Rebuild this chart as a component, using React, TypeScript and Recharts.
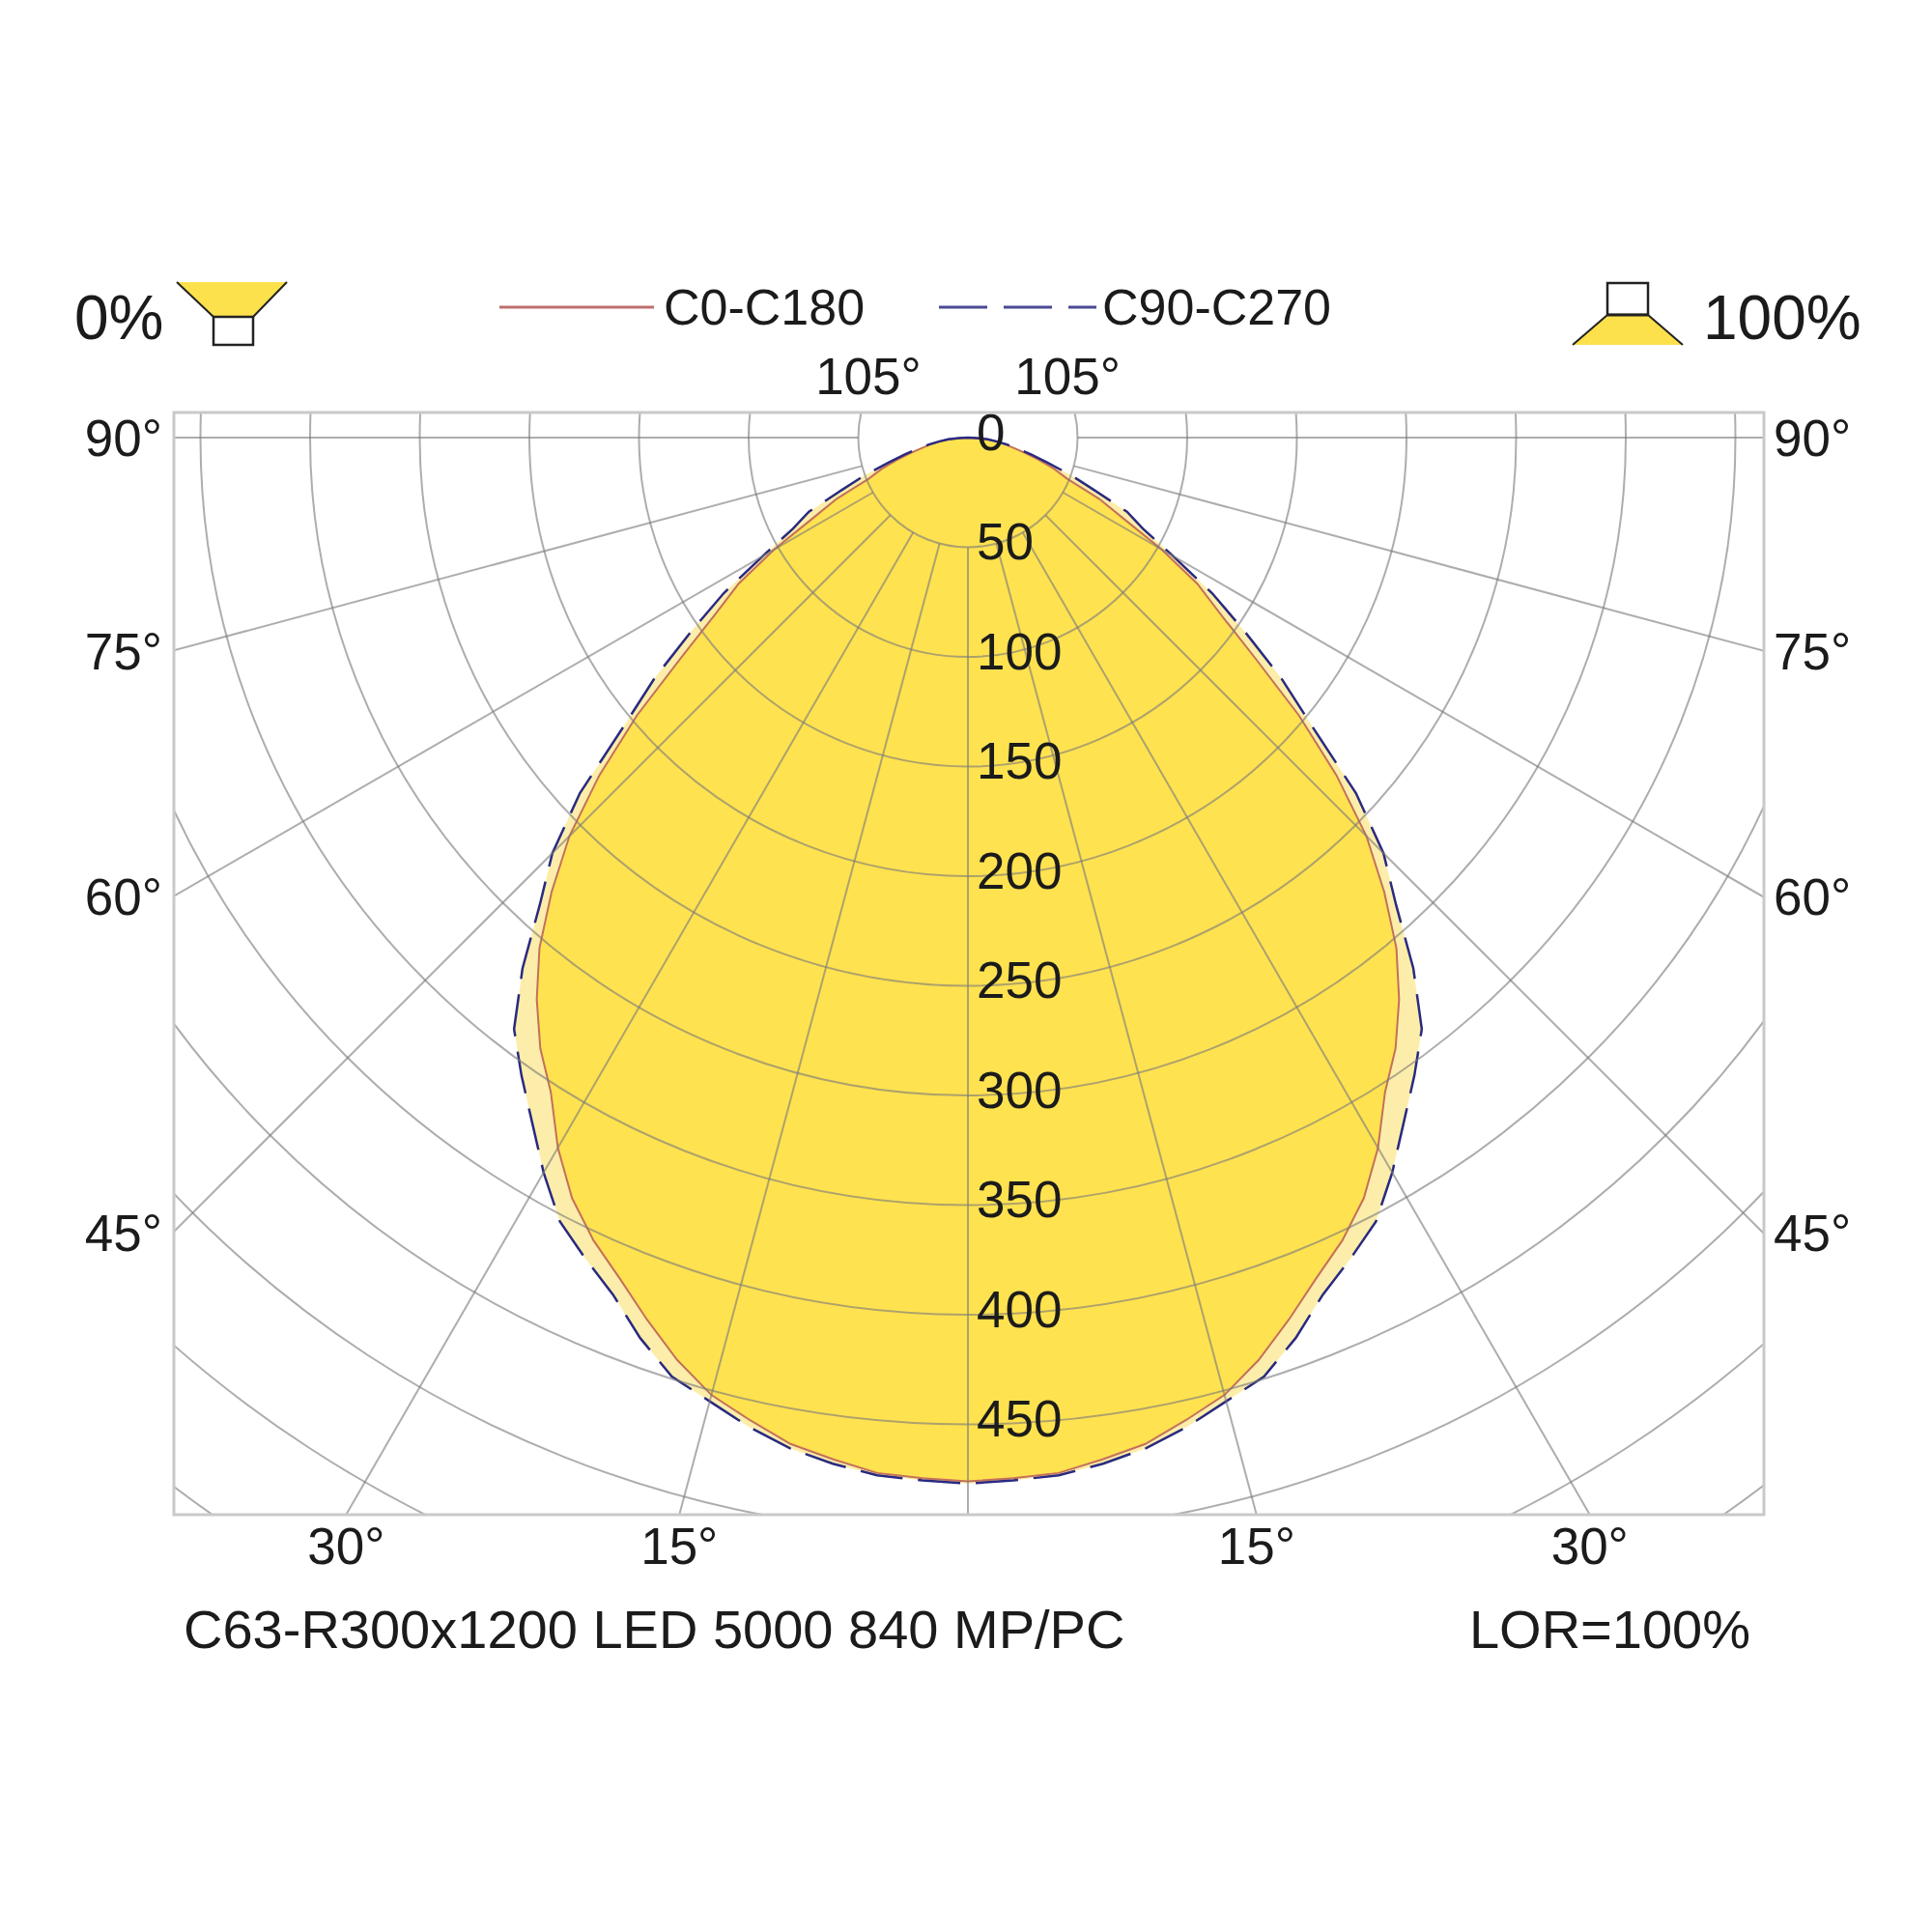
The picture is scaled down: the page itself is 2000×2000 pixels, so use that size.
import { RadarChart, Radar, PolarGrid, PolarAngleAxis, PolarRadiusAxis } from "recharts";

// gamma angle from nadir (deg) and luminous intensity (cd/klm)
const gammaAngles = [
  0, 2.5, 5, 7.5, 10, 12.5, 15, 17.5, 20, 22.5, 25, 27.5, 30, 32.5, 35, 37.5, 40, 42.5, 45,
  47.5, 50, 52.5, 55, 57.5, 60, 62.5, 65, 67.5, 70, 72.5, 75, 77.5, 80, 82.5, 85, 87.5, 90,
];
const c0C180 = [
  476, 475, 474, 470, 466, 459, 452, 441, 428, 415, 404, 391, 374, 354, 340, 323, 304, 281, 257,
  228, 197, 165, 141, 124, 102, 80, 66, 49, 42, 34, 27, 21, 17, 13, 9, 4, 0,
];
const c90C270 = [
  477, 476, 475, 472, 468, 462, 455, 449, 437, 423, 413, 403, 387, 370, 355, 340, 316, 289, 268,
  240, 205, 180, 154, 132, 108, 90, 80, 62, 50, 38, 30, 23, 18, 13, 9, 4, 0,
];

const ringMax = 600;
const ringStep = 50;
const ringLabelMax = 450;
const spokeAngles = [-180, -165, -150, -135, -120, -105, -90, -75, -60, -45, -30, -15, 0, 15, 30, 45, 60, 75, 90, 105, 120, 135, 150, 165, 180];
const sideLabels = [90, 75, 60, 45];
const bottomLabels = [30, 15];
const topLabels = [105];

// both halves of each plane are the same curve
const data = [
  ...gammaAngles.slice(1).reverse().map((g) => {
    const i = gammaAngles.indexOf(g);
    return { angle: -g, c0: c0C180[i], c90: c90C270[i] };
  }),
  ...gammaAngles.map((g, i) => ({ angle: g, c0: c0C180[i], c90: c90C270[i] })),
];

const FONT = "'Liberation Sans', Arial, sans-serif";
const INK = "#1b1b1b";
const GRID = { stroke: "#7a7a7a", strokeOpacity: 0.62, strokeWidth: 2 };

// plot frame and pole, in page pixels
const FRAME = { left: 180, top: 427, width: 1646, height: 1141 };
const CX = 822;
const CY = 26;
const PX_PER_CD = 2.27;
const LABEL_PAD = 60; // room above the frame so the "0" label is not clipped

const polarProps = {
  width: FRAME.width,
  height: FRAME.height,
  cx: CX,
  cy: CY,
  startAngle: -270,
  endAngle: 90,
  margin: { top: 0, right: 0, bottom: 0, left: 0 },
  data,
};

const toChartAngle = (g: number) => g - 90;

const layer: React.CSSProperties = {
  position: "absolute",
  left: FRAME.left,
  top: FRAME.top,
  width: FRAME.width,
  height: FRAME.height,
  pointerEvents: "none",
};

function AngleAxis() {
  return (
    <PolarAngleAxis
      dataKey="angle"
      type="number"
      domain={[-180, 180]}
      axisLine={false}
      tickLine={false}
      tick={false}
    />
  );
}

function RingLabel(props: any) {
  const { x, y, payload } = props;
  if (payload.value > ringLabelMax) return <g />;
  return (
    <text
      x={x + 9}
      y={y - 6}
      dominantBaseline="central"
      fontSize={53}
      fontFamily={FONT}
      fill={INK}
    >
      {payload.value}
    </text>
  );
}

export default function App() {
  const pole = { x: FRAME.left + CX, y: FRAME.top + CY };
  const halfW = FRAME.width / 2;
  const below = FRAME.top + FRAME.height - pole.y;
  const above = pole.y - FRAME.top;
  const rad = (d: number) => (d * Math.PI) / 180;

  return (
    <div style={{ position: "absolute", left: 0, top: 0, width: 2000, height: 2000, background: "#fff" }}>
      {/* intensity curves */}
      <div style={layer}>
        <RadarChart {...polarProps} outerRadius={ringMax * PX_PER_CD}>
          <AngleAxis />
          <PolarRadiusAxis domain={[0, ringMax]} tickCount={ringMax / ringStep + 1} axisLine={false} tick={false} />
          <Radar dataKey="c90" fill="#FCEEAA" fillOpacity={1} stroke="none" isAnimationActive={false} />
          <Radar dataKey="c0" fill="#FFE250" fillOpacity={1} stroke="none" isAnimationActive={false} />
          <Radar dataKey="c0" fill="none" stroke="#C4705A" strokeWidth={2} isAnimationActive={false} />
          <Radar
            dataKey="c90"
            fill="none"
            stroke="#2A2A80"
            strokeWidth={2.5}
            strokeDasharray="44 16"
            isAnimationActive={false}
          />
        </RadarChart>
      </div>

      {/* spokes, starting at the 50 ring */}
      <div style={layer}>
        <RadarChart {...polarProps} innerRadius={ringStep * PX_PER_CD} outerRadius={1500}>
          <AngleAxis />
          <PolarGrid gridType="circle" polarRadius={[]} polarAngles={spokeAngles.map(toChartAngle)} {...GRID} />
        </RadarChart>
      </div>

      {/* rings */}
      <div style={layer}>
        <RadarChart {...polarProps} outerRadius={ringMax * PX_PER_CD}>
          <AngleAxis />
          <PolarRadiusAxis domain={[0, ringMax]} tickCount={ringMax / ringStep + 1} axisLine={false} tick={false} />
          <Radar dataKey="c0" fill="none" stroke="none" isAnimationActive={false} />
          <PolarGrid gridType="circle" radialLines={false} {...GRID} />
        </RadarChart>
      </div>

      {/* ring labels, on a taller layer so nothing is cut at the frame top */}
      <div style={{ ...layer, top: FRAME.top - LABEL_PAD, height: FRAME.height + LABEL_PAD }}>
        <RadarChart
          {...polarProps}
          height={FRAME.height + LABEL_PAD}
          cy={CY + LABEL_PAD}
          outerRadius={ringMax * PX_PER_CD}
        >
          <AngleAxis />
          <PolarRadiusAxis
            angle={-90}
            domain={[0, ringMax]}
            tickCount={ringMax / ringStep + 1}
            axisLine={false}
            tick={RingLabel}
          />
          <Radar dataKey="c0" fill="none" stroke="none" isAnimationActive={false} />
        </RadarChart>
      </div>

      <svg
        width={2000}
        height={2000}
        style={{ position: "absolute", left: 0, top: 0, pointerEvents: "none" }}
        fontFamily={FONT}
        fill={INK}
      >
        <rect
          x={FRAME.left}
          y={FRAME.top}
          width={FRAME.width}
          height={FRAME.height}
          fill="none"
          stroke="#C9C9C9"
          strokeWidth={3}
        />

        {/* header */}
        <text x={77} y={351} fontSize={64}>0%</text>
        <polygon points="183,292 297,292 262,328 221,328" fill="#FDE14C" stroke="none" />
        <line x1={183} y1={292} x2={221} y2={328} stroke="#222" strokeWidth={2} />
        <line x1={297} y1={292} x2={262} y2={328} stroke="#222" strokeWidth={2} />
        <rect x={221} y={328} width={41} height={29} fill="#fff" stroke="#222" strokeWidth={2.5} />

        <line x1={517} y1={318} x2={677} y2={318} stroke="#BE6E6E" strokeWidth={3} />
        <text x={687} y={336} fontSize={52}>C0-C180</text>
        <line x1={972} y1={318} x2={1135} y2={318} stroke="#4A4A92" strokeWidth={3} strokeDasharray="50 17" />
        <text x={1141} y={336} fontSize={52}>C90-C270</text>

        <rect x={1664} y={293} width={42} height={33} fill="#fff" stroke="#222" strokeWidth={2.5} />
        <polygon points="1664,326 1706,326 1742,357 1628,357" fill="#FDE14C" stroke="none" />
        <line x1={1664} y1={326} x2={1628} y2={357} stroke="#222" strokeWidth={2} />
        <line x1={1706} y1={326} x2={1742} y2={357} stroke="#222" strokeWidth={2} />
        <line x1={1664} y1={326} x2={1706} y2={326} stroke="#222" strokeWidth={3} />
        <text x={1763} y={351} fontSize={64}>100%</text>

        {/* angle labels where the spokes leave the frame */}
        {sideLabels.map((g) => {
          const y = pole.y + halfW / Math.tan(rad(g)) + 19;
          return (
            <g key={`s${g}`}>
              <text x={FRAME.left - 12} y={y} fontSize={53} textAnchor="end">{g}°</text>
              <text x={FRAME.left + FRAME.width + 10} y={y} fontSize={53}>{g}°</text>
            </g>
          );
        })}
        {bottomLabels.map((g) => {
          const dx = below * Math.tan(rad(g));
          return (
            <g key={`b${g}`}>
              <text x={pole.x - dx} y={1619} fontSize={53} textAnchor="middle">{g}°</text>
              <text x={pole.x + dx} y={1619} fontSize={53} textAnchor="middle">{g}°</text>
            </g>
          );
        })}
        {topLabels.map((g) => {
          const dx = above / Math.tan(rad(g - 90)) + 6;
          return (
            <g key={`t${g}`}>
              <text x={pole.x - dx} y={408} fontSize={53} textAnchor="middle">{g}°</text>
              <text x={pole.x + dx} y={408} fontSize={53} textAnchor="middle">{g}°</text>
            </g>
          );
        })}

        {/* footer */}
        <text x={190} y={1706} fontSize={56}>C63-R300x1200 LED 5000 840 MP/PC</text>
        <text x={1812} y={1706} fontSize={56} textAnchor="end">LOR=100%</text>
      </svg>
    </div>
  );
}
